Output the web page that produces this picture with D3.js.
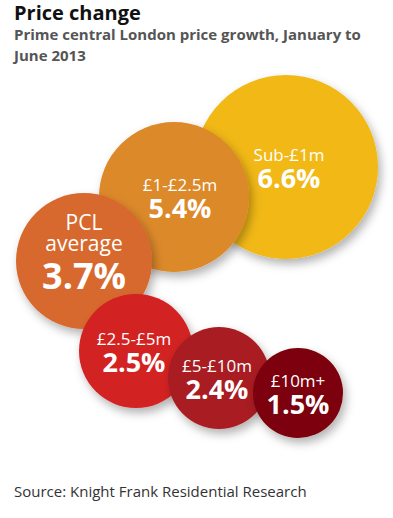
<!DOCTYPE html>
<html>
<head>
<meta charset="utf-8">
<script src="https://cdn.jsdelivr.net/npm/d3@7/dist/d3.min.js"></script>
<style>
  html, body { margin: 0; padding: 0; background: #fff; }
  svg { display: block; font-family: "Open Sans", "Noto Sans", sans-serif; }
</style>
</head>
<body>
<svg id="chart" width="393" height="518"></svg>
<script>
// ---- data ----
const categories = ["Sub-£1m", "£1-£2.5m", "PCL average", "£2.5-£5m", "£5-£10m", "£10m+"];
const growth = [6.6, 5.4, 3.7, 2.5, 2.4, 1.5];
const labelLines = [["Sub-£1m"], ["£1-£2.5m"], ["PCL", "average"], ["£2.5-£5m"], ["£5-£10m"], ["£10m+"]];

// ---- layout (positions / styles, not data) ----
const centers = [[286, 167], [174, 197], [84, 261], [136, 351], [219, 378], [298, 393]];
const radii = d3.scaleLinear().domain([1.5, 2.4, 2.5, 3.7, 5.4, 6.6]).range([45, 51, 57, 68, 75, 92]);
const colors = ["#F1B815", "#DC892C", "#D8692D", "#D32024", "#A81D23", "#7C0408"];
const textOffsetX = [3, 6, 0, -2, -2, 0];

const svg = d3.select("#chart");
const defs = svg.append("defs");
const f = defs.append("filter").attr("id", "shadow")
  .attr("x", "-30%").attr("y", "-30%").attr("width", "160%").attr("height", "160%");
f.append("feDropShadow").attr("dx", 3).attr("dy", 5).attr("stdDeviation", 5)
  .attr("flood-color", "#000").attr("flood-opacity", 0.3);

// title
svg.append("text").attr("x", 14).attr("y", 20)
  .attr("font-size", 20).attr("font-weight", 700).attr("fill", "#111")
  .text("Price change");
const sub = svg.append("text").attr("x", 14).attr("y", 40)
  .attr("font-size", 15).attr("font-weight", 700).attr("fill", "#555");
sub.append("tspan").attr("x", 14).text("Prime central London price growth, January to");
sub.append("tspan").attr("x", 14).attr("dy", 21).text("June 2013");

const data = categories.map((c, i) => ({
  cat: c, value: growth[i], lines: labelLines[i],
  cx: centers[i][0], cy: centers[i][1], color: colors[i], dx: textOffsetX[i]
}));

const g = svg.selectAll("g.bubble").data(data).join("g").attr("class", "bubble");

g.append("circle")
  .attr("cx", d => d.cx).attr("cy", d => d.cy)
  .attr("r", d => radii(d.value))
  .attr("fill", d => d.color)
  .attr("filter", "url(#shadow)");

g.each(function(d) {
  const sel = d3.select(this);
  const x = d.cx + d.dx;
  const t = sel.append("text").attr("text-anchor", "middle").attr("fill", "#fff");
  if (d.lines.length === 1) {
    t.attr("x", x).attr("y", d.cy - 6);
    t.append("tspan").attr("x", x).attr("font-size", 17).text(d.lines[0]);
    t.append("tspan").attr("x", x).attr("dy", 27)
      .attr("font-size", 27).attr("font-weight", 700)
      .text(d.value.toFixed(1) + "%");
  } else {
    t.attr("x", x).attr("y", d.cy - 31);
    t.append("tspan").attr("x", x).attr("font-size", 21).text(d.lines[0]);
    t.append("tspan").attr("x", x).attr("dy", 21).attr("font-size", 21).text(d.lines[1]);
    t.append("tspan").attr("x", x).attr("dy", 38)
      .attr("font-size", 36).attr("font-weight", 700)
      .text(d.value.toFixed(1) + "%");
  }
});

svg.append("text").attr("x", 14).attr("y", 497)
  .attr("font-size", 15).attr("fill", "#333")
  .text("Source: Knight Frank Residential Research");
</script>
</body>
</html>
